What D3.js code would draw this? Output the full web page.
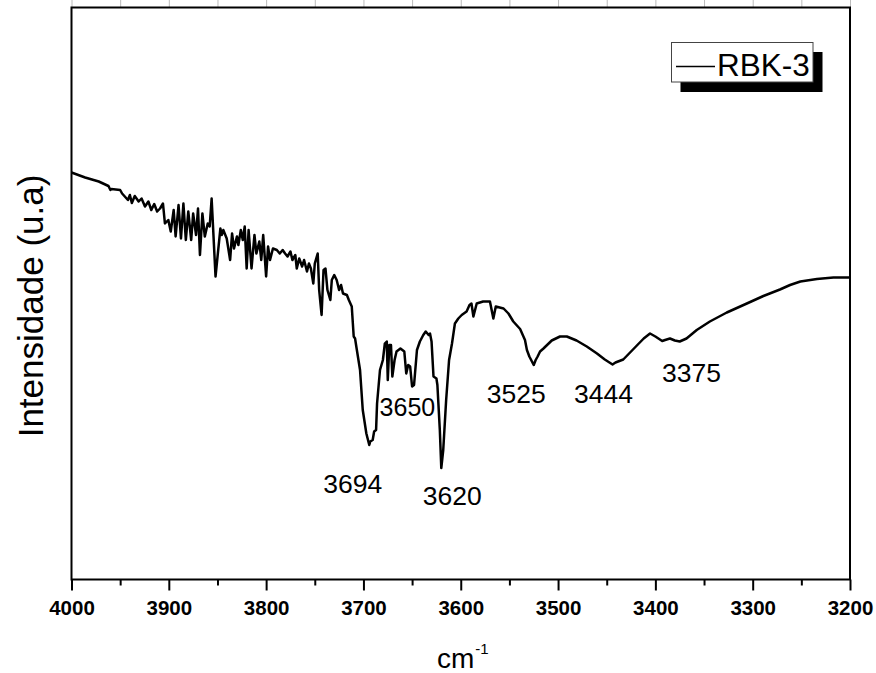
<!DOCTYPE html>
<html>
<head>
<meta charset="utf-8">
<script src="https://cdn.jsdelivr.net/npm/d3@7"></script>
<style>
  html, body { margin: 0; padding: 0; background: #fff; }
  svg { display: block; }
  text { font-family: Arial, "Liberation Sans", sans-serif; fill: #000; }
</style>
</head>
<body>
<svg id="chart" width="876" height="673"></svg>
<script>
// FTIR spectrum of sample RBK-3, OH-stretching region (arbitrary intensity units)
const wavenumber = [
  4000, 3986, 3972, 3962, 3960, 3959, 3950, 3948, 3942, 3940, 3938, 3935, 3931, 3928, 3924.5,
  3921, 3918, 3915, 3912, 3909, 3906, 3904, 3900.5, 3898, 3895, 3893, 3890, 3887.5, 3885, 3882.5,
  3880, 3877, 3875, 3872, 3870, 3868, 3865.5, 3863, 3860, 3858, 3856, 3852, 3847, 3845.5, 3844,
  3840.5, 3837, 3835, 3833, 3830, 3828.5, 3826, 3824, 3822, 3820, 3818, 3815, 3812, 3810, 3807,
  3805, 3803, 3800, 3798, 3796, 3793, 3789, 3786, 3783, 3780.5, 3778, 3775, 3773, 3770, 3768.5,
  3766, 3763, 3761, 3758, 3756, 3754, 3751.5, 3750, 3747, 3745.5, 3743, 3741, 3739, 3737, 3734,
  3732.5, 3730, 3727.5, 3725, 3723, 3721, 3717, 3715, 3712, 3710, 3708.6, 3707, 3703.5, 3700.7, 3697,
  3694, 3693, 3690.5, 3689, 3687, 3686, 3683, 3680, 3678, 3676, 3675, 3673.4, 3671.7, 3670.3, 3668,
  3666, 3662, 3658, 3656, 3654, 3652, 3650, 3648, 3645, 3642, 3638.5, 3636, 3633, 3631.6, 3630,
  3628, 3625, 3624, 3621.5, 3620, 3618, 3615, 3612, 3609, 3606, 3602.5, 3599, 3594, 3591, 3589,
  3587, 3583.6, 3577, 3570, 3566.5, 3564, 3556, 3551, 3546, 3539, 3534, 3532, 3529.5, 3525, 3523,
  3521, 3518.5, 3515, 3506.5, 3498, 3491, 3481, 3470.5, 3460, 3452, 3444, 3441, 3433, 3423, 3412,
  3405.5, 3400, 3393, 3390, 3385, 3380, 3375, 3368, 3357.5, 3344, 3326.6, 3306, 3289, 3272, 3261.6,
  3251, 3234, 3217, 3200
];
const intensity = [
  407, 402, 398, 393.5, 389.5, 390.5, 389.5, 386, 379.5, 384.5, 376.5, 383.5, 378, 381, 373,
  378, 369.5, 375.5, 368, 371, 376, 356, 359.5, 348, 369.5, 343, 374.5, 341, 376, 339.5,
  368, 339.5, 366, 344.5, 371, 324.5, 366, 343, 356, 353, 381, 303, 351, 344.5, 349.5,
  341, 319.5, 346, 331, 343, 334.5, 349.5, 339.5, 353, 311, 349.5, 311, 344.5, 326, 338,
  319.5, 344.5, 303, 333, 319.5, 331, 329.5, 326, 329.5, 326, 323, 328, 319.5, 324.5, 311,
  321, 313, 319.5, 308, 316, 311, 296, 316, 326, 289.5, 264.5, 309.5, 311, 289.5, 279.5,
  299.5, 304.5, 299.5, 289.5, 294.5, 286, 284.5, 279.5, 273, 243, 241, 231, 209.5, 169.5, 146,
  134.5, 138, 139.5, 148, 149.5, 176, 209.5, 219.5, 236, 238, 199.5, 234.5, 234.5, 203, 219.5,
  228, 231, 228, 206, 214.5, 213, 193, 194.5, 229.5, 238, 244.5, 248, 244.5, 246, 238,
  203, 201, 194.5, 149.5, 111.5, 129.5, 179.5, 219.5, 236, 256, 261, 264.5, 268, 274.5, 276,
  263, 276, 278, 278, 261, 273, 271, 266, 258, 250.5, 239.5, 229.5, 223, 214.5, 219.5,
  223, 228, 231, 239, 243, 243, 239, 233, 226, 220, 215, 217, 220, 230, 241,
  246, 243, 238.5, 239.5, 241, 239, 238, 241, 249.5, 258, 267, 276, 283.5, 290, 294.5,
  298, 300.5, 302, 302
];

// Band assignments written beside the curve
const peakLabels = ["3694", "3650", "3620", "3525", "3444", "3375"];
const peakPositions = [3694, 3650, 3620, 3525, 3444, 3375];

// Axis ticks
const majorTicks = [4000, 3900, 3800, 3700, 3600, 3500, 3400, 3300, 3200];
const minorTicks = [3950, 3850, 3750, 3650, 3550, 3450, 3350, 3250];

const seriesName = "RBK-3";
const xTitle = "cm";
const xTitleSup = "-1";
const yTitle = "Intensidade (u.a)";

const svg = d3.select("#chart");
const plotLeft = 71.5, plotRight = 850, plotTop = 7.5, plotBottom = 579.5;

const x = d3.scaleLinear().domain([4000, 3200]).range([plotLeft, plotRight]);
const y = d3.scaleLinear().domain([0, 572]).range([plotBottom, plotTop]);

// Top axis: faint outward ticks
const topAxis = svg.append("g")
  .attr("transform", `translate(0,${plotTop})`)
  .call(d3.axisTop(x).tickValues(majorTicks.concat(minorTicks)).tickSize(8).tickFormat(""));
topAxis.select(".domain").remove();
topAxis.selectAll(".tick line").attr("stroke", "#bbb").attr("stroke-width", 1);

// Bottom axis: major ticks with labels, minor ticks without
const bottomMajor = svg.append("g")
  .attr("transform", `translate(0,${plotBottom})`)
  .call(d3.axisBottom(x).tickValues(majorTicks).tickSize(11).tickPadding(10).tickFormat(d3.format("d")));
bottomMajor.select(".domain").remove();
bottomMajor.selectAll(".tick line").attr("stroke", "#000").attr("stroke-width", 2);
bottomMajor.selectAll(".tick text")
  .attr("font-family", "Arial, 'Liberation Sans', sans-serif")
  .attr("font-size", 20.5).attr("font-weight", "bold").attr("fill", "#000");

const bottomMinor = svg.append("g")
  .attr("transform", `translate(0,${plotBottom})`)
  .call(d3.axisBottom(x).tickValues(minorTicks).tickSize(6).tickFormat(""));
bottomMinor.select(".domain").remove();
bottomMinor.selectAll(".tick line").attr("stroke", "#000").attr("stroke-width", 2);

// Plot frame
svg.append("rect")
  .attr("x", plotLeft).attr("y", plotTop)
  .attr("width", plotRight - plotLeft).attr("height", plotBottom - plotTop)
  .attr("fill", "none").attr("stroke", "#000").attr("stroke-width", 2);

// Spectrum
const pts = wavenumber.map((w, i) => [w, intensity[i]]);
const line = d3.line().x(d => x(d[0])).y(d => y(d[1]));
svg.append("path")
  .datum(pts)
  .attr("d", line)
  .attr("fill", "none")
  .attr("stroke", "#000")
  .attr("stroke-width", 2.5)
  .attr("stroke-linejoin", "round");

// Peak annotations (offsets from each band position)
const labelOffsets = [[-46, 493], [-32.5, 416], [-18.5, 504.5], [-47, 402.7], [-38.5, 402.7], [-17.6, 381.7]];
const labelSizes = [26.5, 25, 26.5, 26.5, 26.5, 26.5];
svg.append("g").selectAll("text")
  .data(peakLabels)
  .join("text")
  .attr("x", (d, i) => x(peakPositions[i]) + labelOffsets[i][0])
  .attr("y", (d, i) => labelOffsets[i][1])
  .attr("font-size", (d, i) => labelSizes[i])
  .text(d => d);

// Axis titles
const xt = svg.append("text")
  .attr("x", 437)
  .attr("y", 668)
  .attr("font-size", 28);
xt.append("tspan").text(xTitle);
xt.append("tspan").attr("font-size", 15).attr("dx", 1).attr("dy", -14).text(xTitleSup);

svg.append("text")
  .attr("transform", `translate(43,306) rotate(-90)`)
  .attr("text-anchor", "middle")
  .attr("font-size", 35)
  .text(yTitle);

// Legend with drop shadow
const lg = svg.append("g");
lg.append("rect").attr("x", 680.5).attr("y", 52).attr("width", 142).attr("height", 40).attr("fill", "#000");
lg.append("rect").attr("x", 671.5).attr("y", 42.5).attr("width", 141.5).attr("height", 39.5)
  .attr("fill", "#fff").attr("stroke", "#444").attr("stroke-width", 1);
lg.append("line").attr("x1", 676).attr("x2", 715).attr("y1", 66.5).attr("y2", 66.5)
  .attr("stroke", "#000").attr("stroke-width", 1.6);
lg.append("text").attr("x", 717).attr("y", 76).attr("font-size", 31.5).text(seriesName);
</script>
</body>
</html>
